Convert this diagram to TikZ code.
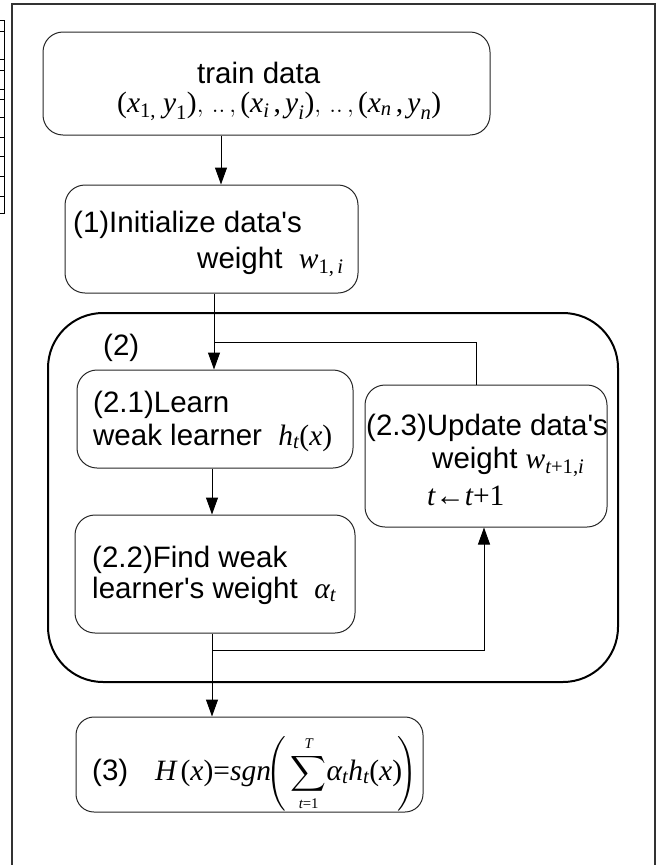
\documentclass[tikz,border=0pt]{standalone}
\usepackage{amsmath}
\usepackage{fontspec}
\setmainfont{Liberation Sans}
\newfontfamily\timesf{Liberation Serif}
\newcommand\mv[1]{\text{\timesf\itshape #1}}
\newcommand\mn[1]{\text{\timesf #1}}
\newcommand\q{\textquotesingle}
\usetikzlibrary{arrows.meta}
\begin{document}
\begin{tikzpicture}[x=1pt,y=-1pt,
  box/.style={draw=black!85, line width=1pt, rounded corners=20pt, inner sep=0pt},
  outerbox/.style={draw=black, line width=2pt, rounded corners=55pt, inner sep=0pt},
  lbl/.style={anchor=base west, inner sep=0pt, font=\fontsize{29.5}{35}\selectfont},
  arr/.style={line width=1pt, -{Triangle[length=17pt,width=12pt]}},
  ln/.style={line width=1pt},
  framel/.style={draw=black!80, line width=1.5pt}]
\useasboundingbox (0,0) rectangle (656,865);
% page frame and left table
\draw[framel] (12,865) -- (12,4) -- (655,4) -- (655,865);
\draw[line width=1pt] (0,20.7) -- (4.7,20.7) -- (4.7,213) -- (0,213);
\foreach \yy in {31.7,59.3,70,89.3,99,117.7,137,156.7,176,196}
  \draw[line width=0.8pt] (0,\yy) -- (4.7,\yy);
% boxes
\node[box, minimum width=447pt, minimum height=103pt] (train) at (266.5,83.5) {};
\node[box, minimum width=293pt, minimum height=108pt] (init) at (211.5,239) {};
\node[outerbox, minimum width=570pt, minimum height=369pt] (loop) at (333,497.5) {};
\node[box, minimum width=276pt, minimum height=98pt] (b21) at (215,419) {};
\node[box, minimum width=280pt, minimum height=118pt] (b22) at (215,574) {};
\node[box, minimum width=242pt, minimum height=142pt] (b23) at (486,456) {};
\node[box, rounded corners=18pt, minimum width=347pt, minimum height=95pt] (b3) at (249.5,764.5) {};
% texts
\node[lbl] (t1) at (197,83) {train data};
\node[lbl] (t2) at (117,112) {$\mn{(}\mv{x}_{\mn{1,}}\;\mv{y}_{\mn{1}}\mn{)},\,..\,,\mn{(}\mv{x}_{\mv{i}}\,\mn{,}\,\mv{y}_{\mv{i}}\mn{)},\,..\,,\mn{(}\mv{x}_{\mv{n}}\,\mn{,}\,\mv{y}_{\mv{n}}\mn{)}$};
\node[lbl] (t3) at (73,232) {(1)Initialize data\q s};
\node[lbl] (t4) at (197,268) {weight\ \ $\mv{w}_{\mn{1,}\,\mv{i}}$};
\node[lbl] (t5) at (103,355) {(2)};
\node[lbl] (t6) at (93,412) {(2.1)Learn};
\node[lbl] (t7) at (93,445) {weak learner\ \ $\mv{h}_{\mv{t}}\mn{(}\mv{x}\mn{)}$};
\node[lbl] (t8) at (92,567) {(2.2)Find weak};
\node[lbl] (t9) at (92,598) {learner\q s weight\ \ $\mv{α}_{\mv{t}}$};
\node[lbl] (t10) at (366,435) {(2.3)Update data\q s};
\node[lbl] (t11) at (432,468) {weight\ $\mv{w}_{\mv{t}\mn{+1,}\mv{i}}$};
\node[lbl] (t12) at (427,505) {$\mv{t}\mn{←}\mv{t}\mn{+1}$};
\node[lbl] (t13) at (92,780) {(3)};
\node[lbl] (t14) at (155,780) {$\mv{H}\,\mn{(}\mv{x}\mn{)=}\mv{sgn}\!\Bigg(\displaystyle\sum\limits_{\scriptscriptstyle\mv{t}\mn{=1}}^{\scriptscriptstyle\mv{T}}\!\mv{α}_{\mv{t}}\mv{h}_{\mv{t}}\mn{(}\mv{x}\mn{)}\!\Bigg)$};
% connector columns/rows
\coordinate (c1) at (221,0);
\coordinate (c2) at (214,0);
\coordinate (c3) at (212,0);
\coordinate (c4) at (476,0);
\coordinate (c5) at (484,0);
\coordinate (r1) at (0,342);
\coordinate (r2) at (0,650);
% connectors
\draw[arr] (train.south -| c1) -- (init.north -| c1);
\draw[arr] (init.south -| c2) -- (b21.north -| c2);
\draw[ln] (b23.north -| c4) -- (c4 |- r1) -- (c2 |- r1);
\draw[arr] (b21.south -| c3) -- (b22.north -| c3);
\draw[arr] (b22.south -| c3) -- (b3.north -| c3);
\draw[arr] (c3 |- r2) -- (c5 |- r2) -- (b23.south -| c5);
\end{tikzpicture}
\end{document}
